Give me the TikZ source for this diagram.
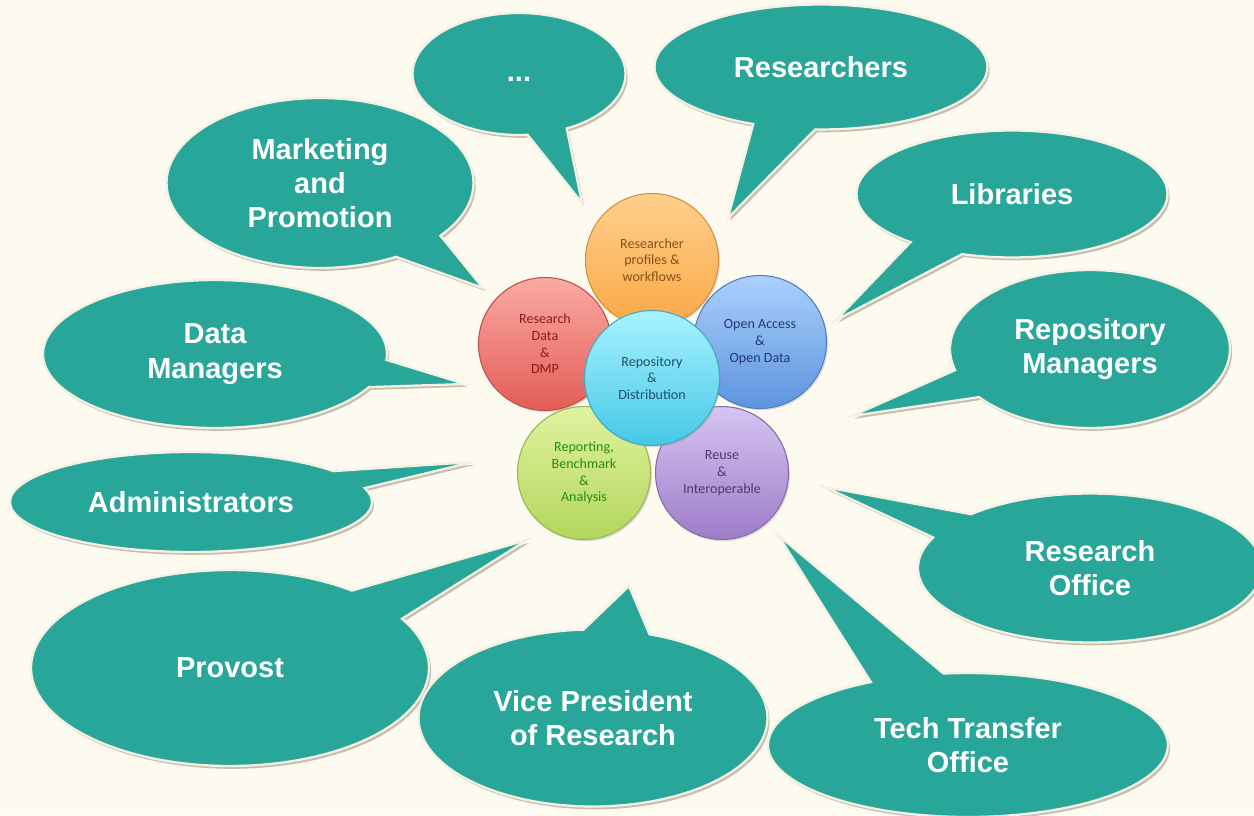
\documentclass[tikz,border=0pt]{standalone}
\usepackage{fontspec}
\setmainfont{Liberation Sans}
\newfontfamily\petalfont{Carlito}
\usetikzlibrary{shapes.callouts}
\usetikzlibrary{shadows}

\definecolor{bgcream}{RGB}{253,250,240}
\definecolor{bubteal}{RGB}{39,166,153}
\definecolor{bubrim}{RGB}{244,240,226}
\definecolor{orgtop}{RGB}{255,208,140}
\definecolor{orgbot}{RGB}{250,168,70}
\definecolor{orgtxt}{RGB}{140,80,25}
\definecolor{redtop}{RGB}{250,170,165}
\definecolor{redbot}{RGB}{228,92,86}
\definecolor{redtxt}{RGB}{145,25,25}
\definecolor{blutop}{RGB}{172,208,252}
\definecolor{blubot}{RGB}{92,148,222}
\definecolor{blutxt}{RGB}{35,55,120}
\definecolor{grntop}{RGB}{225,242,160}
\definecolor{grnbot}{RGB}{178,214,92}
\definecolor{grntxt}{RGB}{40,140,20}
\definecolor{purtop}{RGB}{214,196,242}
\definecolor{purbot}{RGB}{158,124,200}
\definecolor{purtxt}{RGB}{85,55,115}
\definecolor{cyntop}{RGB}{168,242,255}
\definecolor{cynbot}{RGB}{70,200,230}
\definecolor{cyntxt}{RGB}{35,80,110}

\begin{document}
\begin{tikzpicture}[x=0.02cm,y=-0.02cm,
bubble/.style={ellipse callout,fill=bubteal,draw=bubrim,line width=1.3pt,inner sep=0pt,align=center,text=white,
  font=\fontsize{16.5}{19.5}\selectfont\bfseries,callout pointer arc=22,
  drop shadow={shadow xshift=1.2pt,shadow yshift=-1.6pt,opacity=0.3,fill=black!60!brown}},
petal/.style={circle,minimum size=2.66cm,inner sep=0pt,align=center,line width=0.6pt,
  font=\petalfont\fontsize{8}{9.5}\selectfont,
  drop shadow={shadow xshift=0.8pt,shadow yshift=-1pt,opacity=0.25}}]

\useasboundingbox (0,0) rectangle (1254,815);
\fill[bgcream] (0,0) rectangle (1254,815);
\clip (0,0) rectangle (1254,815);

\coordinate (dots-tip) at (582,203);
\coordinate (res-tip) at (728,218);
\coordinate (mkt-tip) at (483,288);
\coordinate (lib-tip) at (836,320);
\coordinate (dm-tip) at (465,384);
\coordinate (rm-tip) at (852,416);
\coordinate (adm-tip) at (473,462);
\coordinate (ro-tip) at (825,487);
\coordinate (prov-tip) at (527,540);
\coordinate (vpr-tip) at (629,586);
\coordinate (tto-tip) at (778,535);

\node[bubble,minimum width=4.26cm,minimum height=2.44cm,callout absolute pointer={(dots-tip)}] (dots) at (519,74) {\raisebox{-4pt}[0pt][0pt]{...}};
\node[bubble,minimum width=6.66cm,minimum height=2.5cm,callout absolute pointer={(res-tip)}] (res) at (821,67) {Researchers};
\node[bubble,minimum width=6.14cm,minimum height=3.4cm,callout absolute pointer={(mkt-tip)}] (mkt) at (320,183) {Marketing\\and\\Promotion};
\node[bubble,minimum width=6.22cm,minimum height=2.54cm,callout absolute pointer={(lib-tip)}] (lib) at (1012,194) {Libraries};
\node[bubble,minimum width=6.88cm,minimum height=2.96cm,callout absolute pointer={(dm-tip)}] (dm) at (215,354) {Data\\Managers};
\node[bubble,minimum width=5.6cm,minimum height=3.16cm,callout absolute pointer={(rm-tip)}] (rm) at (1090,349) {Repository\\Managers};
\node[bubble,minimum width=7.24cm,minimum height=2.0cm,callout absolute pointer={(adm-tip)}] (adm) at (191,502) {Administrators};
\node[bubble,minimum width=6.88cm,minimum height=2.98cm,callout absolute pointer={(ro-tip)}] (ro) at (1090,568) {Research\\Office};
\node[bubble,minimum width=7.96cm,minimum height=3.92cm,callout absolute pointer={(prov-tip)}] (prov) at (230,668) {Provost};
\node[bubble,minimum width=6.98cm,minimum height=3.54cm,callout absolute pointer={(vpr-tip)}] (vpr) at (593,718) {Vice President\\of Research};
\node[bubble,minimum width=8cm,minimum height=2.88cm,callout absolute pointer={(tto-tip)}] (tto) at (968,745) {Tech Transfer\\Office};

\node[petal,top color=orgtop,bottom color=orgbot,draw=orgbot!85!black,text=orgtxt] (profiles) at (652,260) {Researcher\\profiles \&\\workflows};
\node[petal,top color=redtop,bottom color=redbot,draw=redbot!85!black,text=redtxt] (rdata) at (545,344) {Research\\Data\\\&\\DMP};
\node[petal,top color=blutop,bottom color=blubot,draw=blubot!85!black,text=blutxt] (oa) at (760,342) {Open Access\\\&\\Open Data};
\node[petal,top color=grntop,bottom color=grnbot,draw=grnbot!85!black,text=grntxt] (report) at (584,473) {Reporting,\\Benchmark\\\&\\Analysis};
\node[petal,top color=purtop,bottom color=purbot,draw=purbot!85!black,text=purtxt] (reuse) at (722,473) {Reuse\\\&\\Interoperable};
\node[petal,minimum size=2.7cm,top color=cyntop,bottom color=cynbot,draw=cynbot!85!black,text=cyntxt] (repo) at (652,378) {Repository\\\&\\Distribution};

\end{tikzpicture}
\end{document}
